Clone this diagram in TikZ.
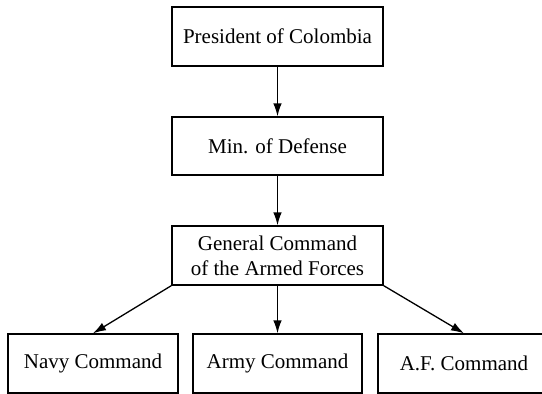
\documentclass[tikz,border=0pt]{standalone}
\usepackage{fontspec}
\setmainfont{Liberation Serif}
\usetikzlibrary{arrows.meta}
\begin{document}
\begin{tikzpicture}[x=1pt,y=-1pt,
  orgbox/.style={draw, line width=1.3pt, inner sep=0pt, align=center,
    font=\fontsize{21}{25}\selectfont},
  link/.style={line width=1.3pt, -{Latex[length=13pt,width=8.5pt]}}]
\useasboundingbox (0,0) rectangle (542,394);
% chain of command
\node[orgbox, minimum width=211pt, minimum height=59pt] (pres) at (277.5,36.5) {President of Colombia};
\node[orgbox, minimum width=211pt, minimum height=58pt] (mindef) at (277.5,146) {Min. of Defense};
\node[orgbox, minimum width=211pt, minimum height=59pt] (gencom) at (277.5,255.5) {General Command\\of the Armed Forces};
% service commands
\node[orgbox, minimum width=170pt, minimum height=59pt] (navy) at (93,363.5) {Navy Command};
\node[orgbox, minimum width=169pt, minimum height=59pt] (army) at (277.5,363.5) {Army Command};
\node[orgbox, minimum width=172pt, minimum height=59pt] (af) at (464,363.5) {A.F. Command};
% connectors
\draw[link] (pres.south) -- (mindef.north);
\draw[link] (mindef.south) -- (gencom.north);
\draw[link] (gencom.south west) -- (navy.north);
\draw[link] (gencom.south) -- (army.north);
\draw[link] (gencom.south east) -- (af.north);
\end{tikzpicture}
\end{document}
